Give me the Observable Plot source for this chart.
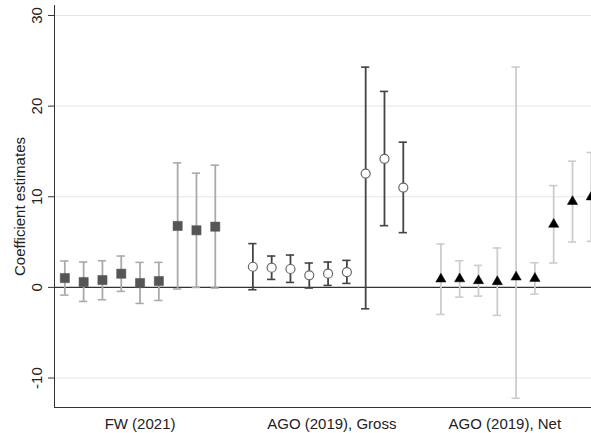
<!DOCTYPE html>
<html>
<head>
<meta charset="utf-8">
<script src="https://cdn.jsdelivr.net/npm/d3@7"></script>
<script src="https://cdn.jsdelivr.net/npm/@observablehq/plot@0.6"></script>
<style>
  html, body { margin: 0; padding: 0; background: #fff; }
  #chart svg { display: block; }
</style>
</head>
<body>
<div id="chart"></div>
<script>
// ---- data ----
const groupLabels = ["FW (2021)", "AGO (2019), Gross", "AGO (2019), Net"];
const groupLabelSlot = [4, 14.2, 23.4];
const yTicks = [-10, 0, 10, 20, 30];

const fwEst = [1.03, 0.59, 0.81, 1.51, 0.48, 0.70, 6.78, 6.30, 6.70];
const fwLo  = [-0.85, -1.55, -1.36, -0.44, -1.77, -1.44, -0.18, 0.00, -0.07];
const fwHi  = [2.91, 2.80, 2.94, 3.46, 2.76, 2.76, 13.74, 12.60, 13.48];

const grossEst = [2.28, 2.17, 2.03, 1.33, 1.51, 1.69, 12.56, 14.18, 11.01];
const grossLo  = [-0.26, 0.88, 0.55, -0.07, 0.22, 0.44, -2.36, 6.81, 6.04];
const grossHi  = [4.83, 3.46, 3.57, 2.69, 2.80, 2.98, 24.3, 21.62, 16.02];

const netEst = [0.92, 0.94, 0.74, 0.63, 1.14, 0.99, 6.96, 9.47, 9.98];
const netLo  = [-2.98, -1.07, -0.96, -3.09, -12.23, -0.74, 2.69, 5.01, 5.08];
const netHi  = [4.79, 2.94, 2.43, 4.35, 24.3, 2.72, 11.23, 13.92, 14.88];

// ---- build table ----
function rows(est, lo, hi, g) {
  return est.map((v, k) => ({slot: g * 10 + k, est: v, lo: lo[k], hi: hi[k]}));
}
const fw = rows(fwEst, fwLo, fwHi, 0);
const gross = rows(grossEst, grossLo, grossHi, 1);
const net = rows(netEst, netLo, netHi, 2);

const xDomain = [-0.55, 28.01];
const yDomain = [-13.25, 31.1];
const capHalf = 0.22;

function ci(data, color) {
  return [
    Plot.ruleX(data, {x: "slot", y1: "lo", y2: "hi", stroke: color, strokeWidth: 1.8}),
    Plot.ruleY(data, {y: "lo", x1: d => d.slot - capHalf, x2: d => d.slot + capHalf, stroke: color, strokeWidth: 1.6}),
    Plot.ruleY(data, {y: "hi", x1: d => d.slot - capHalf, x2: d => d.slot + capHalf, stroke: color, strokeWidth: 1.6})
  ];
}

const chart = Plot.plot({
  width: 591,
  height: 433,
  marginLeft: 54,
  marginRight: 0,
  marginTop: 5,
  marginBottom: 26,
  style: {fontFamily: "'Liberation Sans', Arial, sans-serif", fontSize: "15px", color: "#222", background: "#fff"},
  x: {domain: xDomain, axis: null},
  y: {domain: yDomain, axis: null},
  marks: [
    Plot.ruleY(yTicks.filter(d => d !== 0), {stroke: "#e6e6e6", strokeWidth: 1}),
    Plot.ruleY([0], {stroke: "#333", strokeWidth: 1.3}),
    ...ci(fw, "#aaaaaa"),
    ...ci(gross, "#444444"),
    ...ci(net, "#cccccc"),
    Plot.dot(fw, {x: "slot", y: "est", symbol: "square", r: 5.2, fill: "#555555", stroke: "#555555", strokeWidth: 0.5}),
    Plot.dot(gross, {x: "slot", y: "est", symbol: "circle", r: 4.5, fill: "#fff", stroke: "#666666", strokeWidth: 1.2}),
    Plot.dot(net, {x: "slot", y: "est", symbol: "triangle", r: 3.8, fill: "#000", stroke: "#000", strokeWidth: 0.5}),
    // axes
    Plot.ruleX([xDomain[0]], {stroke: "#333", strokeWidth: 1}),
    Plot.ruleY([yDomain[0]], {stroke: "#333", strokeWidth: 1}),
    Plot.axisY({ticks: yTicks, tickSize: 6, tickFormat: () => "", stroke: "#333", label: null}),
    Plot.text(yTicks, {y: d => d, text: d => String(d), frameAnchor: "left", dx: -17, rotate: -90, textAnchor: "middle", lineAnchor: "middle", fill: "#222", fontSize: 15}),
    Plot.text(["Coefficient estimates"], {frameAnchor: "left", dx: -34, rotate: -90, textAnchor: "middle", lineAnchor: "middle", fill: "#222", fontSize: 15}),
    Plot.text(groupLabels, {x: (d, i) => groupLabelSlot[i], frameAnchor: "bottom", dy: 17, textAnchor: "middle", lineAnchor: "middle", fill: "#222", fontSize: 15})
  ]
});
document.getElementById("chart").appendChild(chart);
</script>
</body>
</html>
